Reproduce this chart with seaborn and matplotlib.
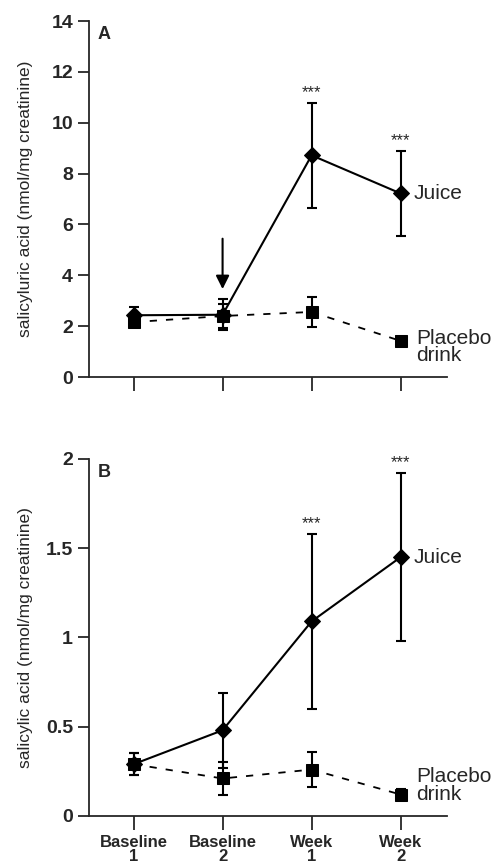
import numpy as np
import pandas as pd
import matplotlib
matplotlib.use("Agg")
import matplotlib.pyplot as plt
import seaborn as sns

timepoints = ["Baseline\n1", "Baseline\n2", "Week\n1", "Week\n2"]

# panel A: salicyluric acid
juice_a = [2.43, 2.45, 8.72, 7.22]
juice_a_err = [0.32, 0.6, 2.06, 1.68]
placebo_a = [2.16, 2.40, 2.56, 1.42]
placebo_a_err = [0.2, 0.48, 0.58, 0.15]

# panel B: salicylic acid
juice_b = [0.29, 0.48, 1.09, 1.45]
juice_b_err = [0.06, 0.21, 0.49, 0.47]
placebo_b = [0.29, 0.21, 0.26, 0.12]
placebo_b_err = [0.06, 0.09, 0.10, 0.03]

stars_a = [None, None, "***", "***"]
stars_b = [None, None, "***", "***"]

sns.set_style("ticks")
plt.rcParams['font.family'] = ['Liberation Sans', 'DejaVu Sans']

fig = plt.figure(figsize=(4.91, 8.63), dpi=100)
ax_a = fig.add_axes([0.1813, 0.5631, 0.729, 0.4125])
ax_b = fig.add_axes([0.1813, 0.0545, 0.729, 0.4137])


def draw_panel(ax, juice, juice_err, placebo, placebo_err, stars, letter,
               ylabel, ylim, yticks, ylabels, juice_lab_y, plac_lab_y):
    x = np.arange(len(timepoints))
    df = pd.DataFrame({
        "x": np.concatenate([x, x]),
        "y": juice + placebo,
        "group": ["Juice"] * 4 + ["Placebo"] * 4,
    })
    sns.lineplot(data=df[df.group == "Placebo"], x="x", y="y", ax=ax,
                 color="black", lw=1.3, marker="s", markersize=9,
                 markeredgecolor="black", legend=False)
    ax.lines[-1].set_dashes((4, 5))
    sns.lineplot(data=df[df.group == "Juice"], x="x", y="y", ax=ax,
                 color="black", lw=1.5, marker="D", markersize=8,
                 markeredgecolor="black", legend=False)
    ax.errorbar(x, juice, yerr=juice_err, fmt="none", ecolor="black",
                elinewidth=1.5, capsize=3.5, capthick=1.5)
    ax.errorbar(x, placebo, yerr=placebo_err, fmt="none", ecolor="black",
                elinewidth=1.5, capsize=3.5, capthick=1.5)

    for xi, s, m, e in zip(x, stars, juice, juice_err):
        if s:
            ax.annotate(s, (xi, m + e), xytext=(0, 2), textcoords="offset points",
                        ha="center", va="bottom", fontsize=12)

    ax.text(3.15, juice_lab_y, "Juice", fontsize=15, va="center", ha="left")
    ax.text(3.17, plac_lab_y, "Placebo\ndrink", fontsize=15, va="center",
            ha="left", linespacing=0.9)
    ax.text(0.025, 0.985, letter, transform=ax.transAxes, fontsize=13,
            fontweight="bold", va="top", ha="left")

    ax.set_xlim(-0.5, 3.52)
    ax.set_ylim(*ylim)
    ax.set_yticks(yticks)
    ax.set_yticklabels(ylabels, fontsize=14, fontweight="bold")
    ax.set_xticks(x)
    ax.set_xlabel("")
    ax.set_ylabel(ylabel, fontsize=12.5)
    ax.yaxis.set_label_coords(-0.156, 0.5)
    ax.tick_params(axis="y", length=8, width=1.3, direction="out")
    ax.tick_params(axis="x", length=10, width=1.3, direction="out")
    for sp in ["top", "right"]:
        ax.spines[sp].set_visible(False)
    for sp in ["left", "bottom"]:
        ax.spines[sp].set_linewidth(1.3)
    ax.spines["bottom"].set_bounds(-0.5, 3.52)


draw_panel(ax_a, juice_a, juice_a_err, placebo_a, placebo_a_err, stars_a, "A",
           "salicyluric acid (nmol/mg creatinine)", (0, 14), np.arange(0, 15, 2),
           [str(v) for v in range(0, 15, 2)], 7.22, 1.18)
ax_a.set_xticklabels([])
ax_a.annotate("", xy=(1, 3.35), xytext=(1, 5.55),
              arrowprops=dict(arrowstyle="-|>", color="black", lw=1.5,
                              mutation_scale=20))

draw_panel(ax_b, juice_b, juice_b_err, placebo_b, placebo_b_err, stars_b, "B",
           "salicylic acid (nmol/mg creatinine)", (0, 2), [0, 0.5, 1, 1.5, 2],
           ["0", "0.5", "1", "1.5", "2"], 1.45, 0.17)
ax_b.set_xticklabels(timepoints, fontsize=12, fontweight="bold", linespacing=0.9)

fig.savefig("out.png", dpi=100)
